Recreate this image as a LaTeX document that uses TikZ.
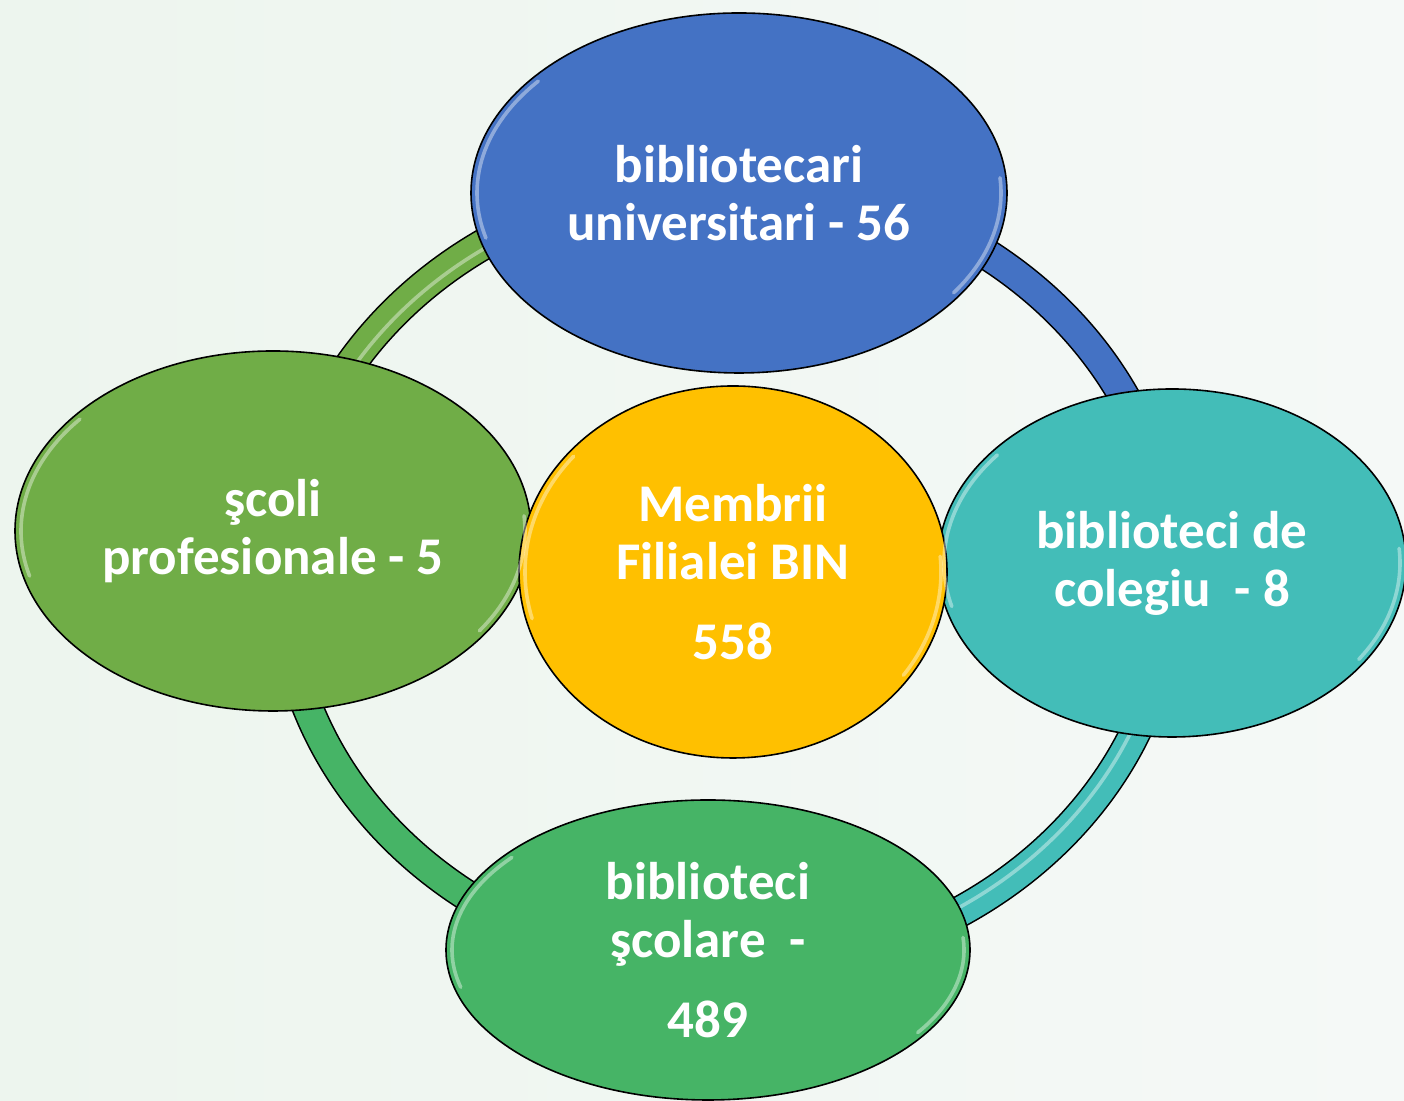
\documentclass[tikz,border=0pt]{standalone}
\usepackage{fontspec}
\setmainfont{Carlito}
\usetikzlibrary{shapes.geometric}
\definecolor{bgL}{HTML}{EDF5EE}
\definecolor{bgR}{HTML}{F5F9F7}
\definecolor{blueB}{HTML}{4472C4}
\definecolor{limeB}{HTML}{70AD47}
\definecolor{tealB}{HTML}{43BDB8}
\definecolor{greenB}{HTML}{46B466}
\definecolor{goldB}{HTML}{FFC000}
\tikzset{
  bubble/.style={ellipse, draw=black, line width=0.8pt, text=white, inner sep=0pt,
    font=\fontsize{26.5}{29}\selectfont\bfseries, align=center},
  ringedge/.style={draw=black, line width=16pt},
  ringband/.style={line width=14.4pt},
  gloss/.style={draw=white, opacity=.4, line width=1.8pt, line cap=round}
}
\begin{document}
\begin{tikzpicture}[x=0.5pt,y=0.5pt]  % ------ Membrii Filialei BIN --------
    \useasboundingbox (0,0) rectangle (1404,1101);
    \shade[left color=bgL, right color=bgR] (0,0) rectangle (1404,1101);
    \coordinate (ring) at (727,526);
    % inelul: un arc pe sfert pentru fiecare culoare
    \foreach \a in {0,90,180,270}
      \draw[ringedge] ([shift={(\a:445 and 395)}]ring) arc[start angle=\a, delta angle=90, x radius=445, y radius=395];
    \foreach \a/\c in {0/blueB,90/limeB,180/greenB,270/tealB}
      \draw[ringband, draw=\c] ([shift={(\a:445 and 395)}]ring) arc[start angle=\a, delta angle=90, x radius=445, y radius=395];
    \foreach \a in {90,270}
      \draw[gloss, opacity=.4] ([shift={(\a+5:441 and 391)}]ring) arc[start angle=\a+5, delta angle=80, x radius=441, y radius=391];
    \node[bubble, fill=blueB, minimum width=268pt, minimum height=180pt] (univ) at (739,908)
      {bibliotecari\\universitari - 56};
    \node[bubble, fill=limeB, minimum width=258pt, minimum height=180pt] (prof) at (273,570)
      {şcoli\\profesionale - 5};
    \node[bubble, fill=tealB, minimum width=234pt, minimum height=174pt] (coleg) at (1172,538)
      {biblioteci de\\colegiu~~- 8};
    \node[bubble, fill=greenB, minimum width=262pt, minimum height=150pt] (scol) at (708,151)
      {biblioteci\\şcolare~~-\\[11pt]489};
    \node[bubble, fill=goldB, minimum width=214pt, minimum height=186pt] (bin) at (733,529)
      {Membrii\\Filialei BIN\\[11pt]558};
    % luciu pe margini
    \foreach \n/\rx/\ry in {univ/262/174,prof/252/174,coleg/228/168,scol/256/144,bin/208/180} {
      \draw[gloss] ([shift={(140:\rx\space and \ry)}]\n.center) arc[start angle=140, end angle=195, x radius=\rx, y radius=\ry];
      \draw[gloss] ([shift={(-35:\rx\space and \ry)}]\n.center) arc[start angle=-35, end angle=5, x radius=\rx, y radius=\ry];
    }
\end{tikzpicture}
\end{document}
